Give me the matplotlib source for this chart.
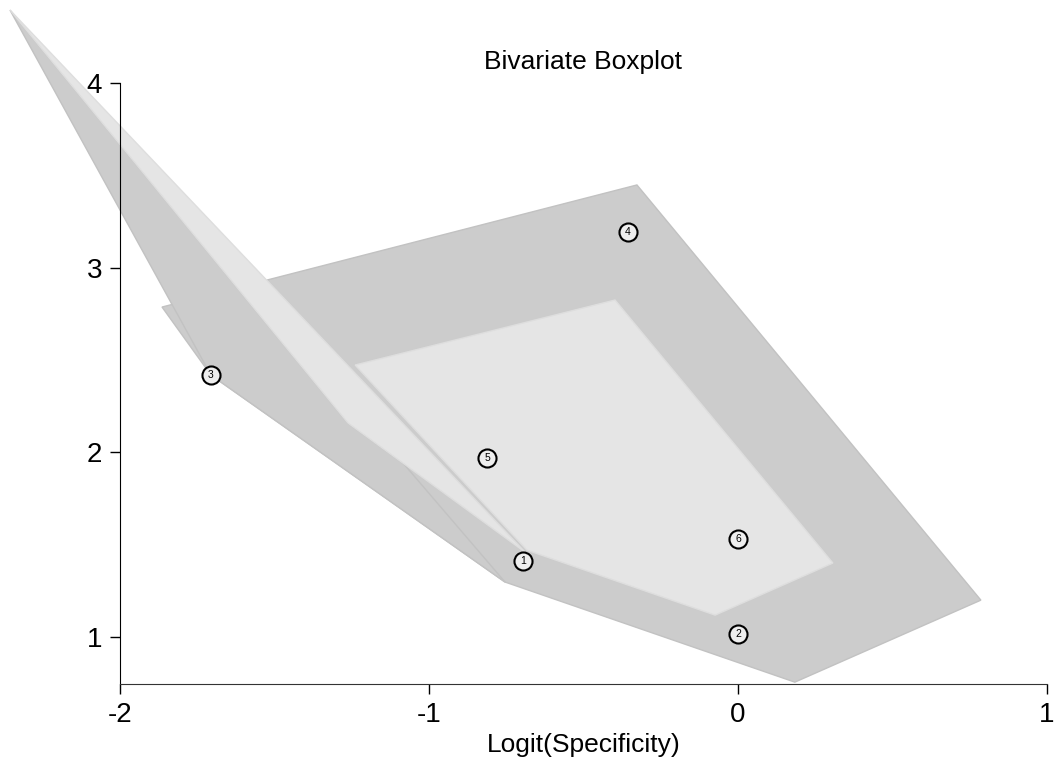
import matplotlib
matplotlib.use("Agg")
import matplotlib.pyplot as plt
from matplotlib.patches import Polygon
import numpy as np

plt.rcParams['font.family'] = ['Liberation Sans', 'DejaVu Sans']

# Study points (logit specificity, logit sensitivity)
pt_labels = ['1', '2', '3', '4', '5', '6']
pt_x = [-0.696, 0.0, -1.706, -0.356, -0.812, 0.0]
pt_y = [1.412, 1.016, 2.419, 3.193, 1.969, 1.531]

# Fence (outer) polygons
fence_x = [-1.864, -0.327, 0.786, 0.184, -0.754, -1.706]
fence_y = [2.787, 3.448, 1.200, 0.756, 1.298, 2.419]
fence2_x = [-2.356, -1.262, -1.084, -0.754, -1.706]
fence2_y = [4.395, 2.159, 1.942, 1.298, 2.419]

# Hinge (inner) polygons
hinge2_x = [-2.356, -1.262, -0.689]
hinge2_y = [4.395, 2.159, 1.460]
hinge_x = [-1.239, -0.398, 0.307, -0.074, -0.683]
hinge_y = [2.473, 2.825, 1.401, 1.119, 1.471]

x_ticks = [-2, -1, 0, 1]
y_ticks = [1, 2, 3, 4]

W, H = 1057, 764
fig = plt.figure(figsize=(W / 100, H / 100), dpi=100)
ax = fig.add_axes([120 / W, 1 - 684 / H, (1047 - 120) / W, (684 - 83) / H])
ax.set_xlim(-2, 1)
ax.set_ylim(0.746, 4)

dark = '#cccccc'
light = '#e5e5e5'
for xs, ys, fc, ec in [(fence_x, fence_y, dark, '#c2c2c2'),
                       (fence2_x, fence2_y, dark, '#c2c2c2'),
                       (hinge2_x, hinge2_y, light, '#dedede'),
                       (hinge_x, hinge_y, light, '#dedede')]:
    p = Polygon(np.column_stack([xs, ys]), closed=True, facecolor=fc,
                edgecolor=ec, linewidth=1.0, clip_on=False, zorder=1)
    ax.add_patch(p)

ax.plot(pt_x, pt_y, linestyle='none', marker='o', markersize=13,
        markerfacecolor='#eeeeee', markeredgecolor='black',
        markeredgewidth=1.5, clip_on=False, zorder=3)
for lab, x, y in zip(pt_labels, pt_x, pt_y):
    ax.text(x, y, lab, ha='center', va='center', fontsize=7.5, zorder=4)

for s in ['top', 'right']:
    ax.spines[s].set_visible(False)
ax.spines['left'].set_color('black')
ax.spines['bottom'].set_color('#333333')
ax.set_xticks(x_ticks)
ax.set_xticklabels([str(v) for v in x_ticks])
ax.set_yticks(y_ticks)
ax.set_yticklabels([str(v) for v in y_ticks])
ax.tick_params(axis='both', length=7, width=1, pad=6, labelsize=20, direction='out')

fig.text(583.5 / W, 1 - 62 / H, 'Bivariate Boxplot', ha='center', va='center', fontsize=19)
fig.text(583.5 / W, 1 - 745 / H, 'Logit(Specificity)', ha='center', va='center', fontsize=19)

fig.savefig('out.png', dpi=100)
